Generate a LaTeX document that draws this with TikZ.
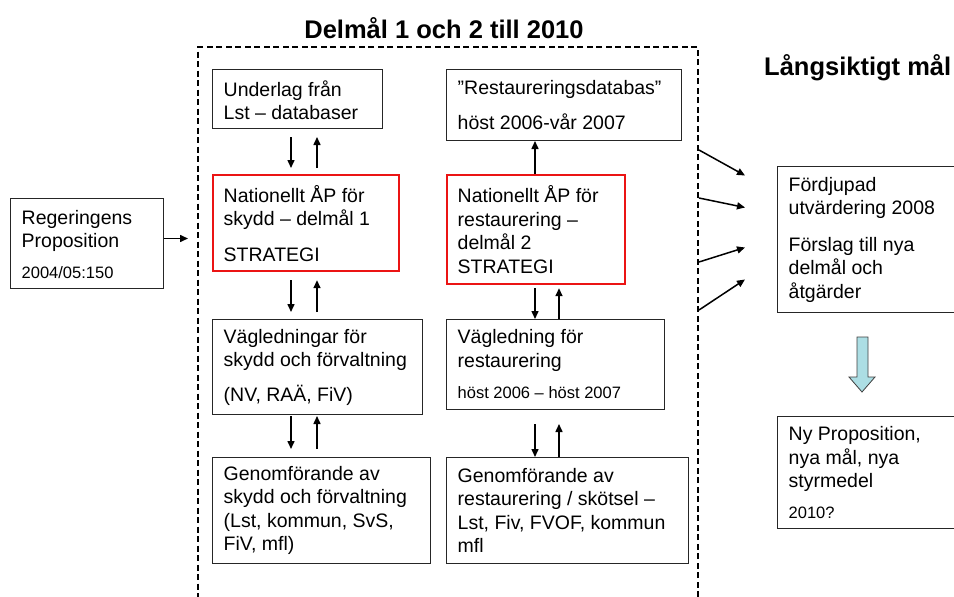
\documentclass[tikz,border=0pt]{standalone}
\usepackage{fontspec}
\setmainfont{Liberation Sans}
\usetikzlibrary{calc,arrows.meta}
\newcommand{\mainf}{\fontsize{19.5}{23.5}\selectfont}
\newcommand{\smallf}{\fontsize{16.5}{20}\selectfont}
\newcommand{\titlef}{\fontsize{25.5}{29}\selectfont\bfseries}
\definecolor{redbox}{RGB}{235,20,20}
\definecolor{lightblue}{RGB}{172,222,228}
\tikzset{
  bx/.style={draw=black!85, line width=1pt, rectangle, inner sep=0pt, anchor=north west},
  redbx/.style={draw=redbox, line width=2.2pt, rectangle, inner sep=0pt, anchor=north west},
  txt/.style={align=left, inner sep=0pt, anchor=west, font=\mainf},
  frame/.style={draw=black, line width=2pt, dash pattern=on 6pt off 3.5pt, rectangle, inner sep=0pt, anchor=north west},
  arr/.style={line width=1.5pt, -{Triangle[length=8pt,width=7pt]}},
}
\begin{document}
\begin{tikzpicture}[x=1pt,y=-1pt]
\useasboundingbox (0,0) rectangle (954,597);
\clip (0,0) rectangle (954,597);
\fill[white] (0,0) rectangle (954,597);

% titles
\node[font=\titlef, inner sep=0pt] (t1) at (444,28) {Delmål 1 och 2 till 2010};
\node[font=\titlef, inner sep=0pt, anchor=west] (t2) at (764,68) {Långsiktigt mål};

% dashed frame
\node[frame, minimum width=500pt, minimum height=620pt] (frame) at (197,46) {};

% left box
\node[bx, minimum width=153pt, minimum height=90pt] (reg) at (10,198) {};
\node[txt] (regt) at ($(reg.west)+(11.5,1)$) {Regeringens\\Proposition\\[7pt]{\smallf 2004/05:150}};

% column 1
\node[bx, minimum width=170pt, minimum height=59pt] (u1) at (212,69) {};
\node[txt] (u1t) at ($(u1.west)+(11.5,1)$) {Underlag från\\Lst – databaser};
\node[redbx, minimum width=186pt, minimum height=96pt] (n1) at (212,174) {};
\node[txt] (n1t) at ($(n1.west)+(11.5,0)$) {Nationellt ÅP för\\skydd – delmål 1\\[12pt]STRATEGI};
\node[bx, minimum width=210pt, minimum height=95pt] (v1) at (212,319) {};
\node[txt] (v1t) at ($(v1.west)+(11.5,0)$) {Vägledningar för\\skydd och förvaltning\\[11pt](NV, RAÄ, FiV)};
\node[bx, minimum width=218pt, minimum height=106pt] (g1) at (212,457) {};
\node[txt] (g1t) at ($(g1.west)+(11.5,0)$) {Genomförande av\\skydd och förvaltning\\(Lst, kommun, SvS,\\FiV, mfl)};

% column 2
\node[bx, minimum width=235pt, minimum height=71pt] (u2) at (446,69) {};
\node[txt] (u2t) at ($(u2.west)+(11.5,0)$) {”Restaureringsdatabas”\\[12pt]höst 2006-vår 2007};
\node[redbx, minimum width=178pt, minimum height=109pt] (n2) at (446,174) {};
\node[txt] (n2t) at ($(n2.west)+(11.5,0)$) {Nationellt ÅP för\\restaurering –\\delmål 2\\STRATEGI};
\node[bx, minimum width=218pt, minimum height=90pt] (v2) at (446,319) {};
\node[txt] (v2t) at ($(v2.west)+(11.5,0)$) {Vägledning för\\restaurering\\[8pt]{\smallf höst 2006 – höst 2007}};
\node[bx, minimum width=242pt, minimum height=106pt] (g2) at (446,457) {};
\node[txt] (g2t) at ($(g2.west)+(11.5,0)$) {Genomförande av\\restaurering / skötsel –\\Lst, Fiv, FVOF, kommun\\mfl};

% right column
\node[bx, minimum width=200pt, minimum height=146pt] (f1) at (777,166) {};
\node[txt] (f1t) at ($(f1.west)+(11.5,0)$) {Fördjupad\\utvärdering 2008\\[13pt]Förslag till nya\\delmål och\\åtgärder};
\node[bx, minimum width=200pt, minimum height=112pt] (ny) at (777,416) {};
\node[txt] (nyt) at ($(ny.west)+(11.5,0)$) {Ny Proposition,\\nya mål, nya\\styrmedel\\[7pt]{\smallf 2010?}};

% column x positions
\coordinate (cA) at (291,0);
\coordinate (cB) at (317,0);
\coordinate (cC) at (535,0);
\coordinate (cD) at (559,0);

% arrows column 1
\draw[arr] ($(u1.south -| cA)+(0,8)$) -- ($(n1.north -| cA)+(0,-6)$);
\draw[arr] ($(n1.north -| cB)+(0,-6)$) -- ($(u1.south -| cB)+(0,8)$);
\draw[arr] ($(n1.south -| cA)+(0,8)$) -- ($(v1.north -| cA)+(0,-7)$);
\draw[arr] ($(v1.north -| cB)+(0,-7)$) -- ($(n1.south -| cB)+(0,8)$);
\draw[arr] ($(v1.south -| cA)+(0,1)$) -- ($(g1.north -| cA)+(0,-8)$);
\draw[arr] ($(g1.north -| cB)+(0,-8)$) -- ($(v1.south -| cB)+(0,1)$);

% arrows column 2
\draw[arr] (n2.north -| cC) -- (u2.south -| cC);
\draw[arr] ($(n2.south -| cC)+(0,3)$) -- (v2.north -| cC);
\draw[arr] (v2.north -| cD) -- ($(n2.south -| cD)+(0,3)$);
\draw[arr] ($(v2.south -| cC)+(0,14)$) -- (g2.north -| cC);
\draw[arr] (g2.north -| cD) -- ($(v2.south -| cD)+(0,14)$);

% input arrow
\draw[arr] ($(reg.east)+(0,-5)$) -- ($(frame.north west |- reg.east)+(-9,-5)$);

% output arrows
\draw[arr] ($(frame.north east)+(0,104)$) -- ($(f1.west)+(-32,-64)$);
\draw[arr] ($(frame.north east)+(0,152)$) -- ($(f1.west)+(-32,-32)$);
\draw[arr] ($(frame.north east)+(0,216)$) -- ($(f1.west)+(-32,8)$);
\draw[arr] ($(frame.north east)+(0,264)$) -- ($(f1.west)+(-32,40)$);

% block arrow
\draw[fill=lightblue, draw=black!75, line width=0.8pt]
  (857,337) -- (868,337) -- (868,377) -- (875,377) -- (862,392) -- (849,377) -- (857,377) -- cycle;
\end{tikzpicture}
\end{document}
